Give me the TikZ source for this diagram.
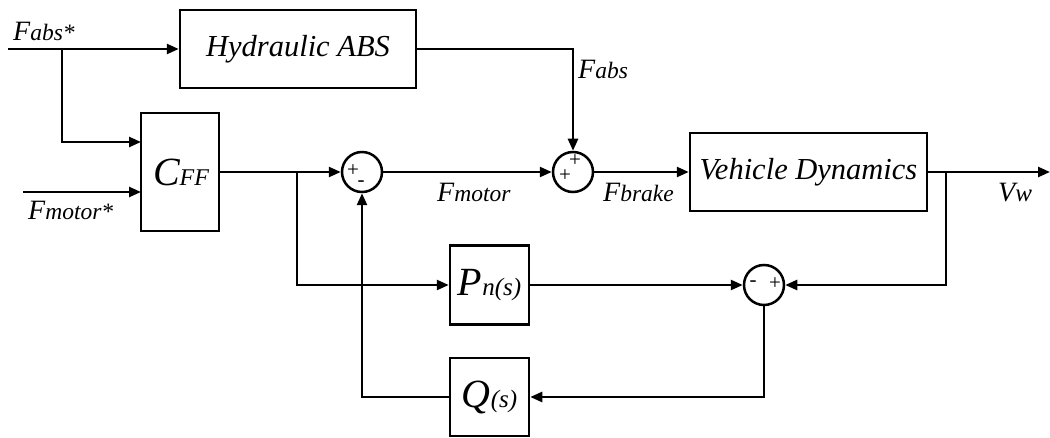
\documentclass[tikz,border=0pt]{standalone}
\usepackage{fontspec}
\setmainfont{Liberation Serif}
\usetikzlibrary{arrows.meta,calc}
\newcommand\biglbl[2]{{\fontsize{28}{30}\selectfont\itshape #1}{\fontsize{23.5}{26}\selectfont\itshape #2}}
\tikzset{
  blk/.style={draw, line width=2.5pt, rectangle, inner sep=0pt, fill=white},
  sumc/.style={draw, line width=2.5pt, circle, minimum size=40pt, inner sep=0pt},
  arr/.style={line width=2.5pt, -{Triangle[length=12pt,width=10pt]}},
  sgn/.style={inner sep=0pt, font=\fontsize{21}{21}\selectfont},
  lbl/.style={inner sep=0pt, anchor=base west},
}
\begin{document}
\begin{tikzpicture}[x=1pt,y=-1pt]
\useasboundingbox (0,0) rectangle (1050,438);
% blocks
\node[blk, minimum width=236pt, minimum height=78pt] (hab) at (298,49)
  {\fontsize{30.5}{32}\selectfont\itshape Hydraulic ABS};
\node[blk, minimum width=78pt, minimum height=118pt] (cff) at (180,172)
  {\hspace*{2pt}{\fontsize{40}{42}\selectfont\itshape C}{\fontsize{24}{26}\selectfont\itshape FF}};
\node[blk, minimum width=237pt, minimum height=78pt] (vd) at (808.5,172)
  {\fontsize{30.5}{32}\selectfont\itshape Vehicle Dynamics};
\node[blk, minimum width=79pt, minimum height=79pt] (pn) at (489.5,285)
  {{\fontsize{40}{42}\selectfont\itshape P}{\fontsize{25}{27}\selectfont\itshape n(s)}};
\node[blk, minimum width=79pt, minimum height=78pt] (q) at (489.5,397)
  {{\fontsize{40}{42}\selectfont\itshape Q}{\fontsize{25}{27}\selectfont\itshape (s)}};
% summing junctions
\node[sumc] (s1) at (362,172) {};
\node[sumc] (s2) at (573,172) {};
\node[sumc] (s3) at (764,285) {};
\node[sgn] (s1p) at ($(s1)+(-9,-1)$) {+};
\node[sgn] (s1m) at ($(s1)+(-1,12)$) {-};
\node[sgn] (s2pt) at ($(s2)+(2,-11)$) {+};
\node[sgn] (s2pl) at ($(s2)+(-8,4)$) {+};
\node[sgn] (s3m) at ($(s3)+(-11,-1)$) {-};
\node[sgn] (s3p) at ($(s3)+(11,-1)$) {+};
% coordinates
\coordinate (fa) at (8,49);
\coordinate (b1) at (62,49);
\coordinate (c1) at (141,142);
\coordinate (fm) at (23,192);
\coordinate (c2) at (141,192);
\coordinate (b2) at (297,172);
\coordinate (b3) at (946,172);
\coordinate (out) at (1050,172);
% connectors
\draw[arr] (fa) -- (hab.west);
\draw[arr] (b1) |- (c1);
\draw[arr] (fm) -- (c2);
\draw[arr] (cff.east) -- (s1.west);
\draw[arr] (b2) |- (pn.west);
\draw[arr] (s1.east) -- (s2.west);
\draw[arr] (hab.east) -| (s2.north);
\draw[arr] (s2.east) -- (vd.west);
\draw[arr] (vd.east) -- (out);
\draw[arr] (b3) |- (s3.east);
\draw[arr] (pn.east) -- (s3.west);
\draw[arr] (s3.south) |- (q.east);
\draw[arr] (q.west) -| (s1.south);
% labels
\node[lbl] (l1) at (13,41) {\biglbl{F}{abs*}};
\node[lbl] (l2) at (28,220) {\biglbl{F}{motor*}};
\node[lbl] (l3) at (437,202) {\biglbl{F}{motor}};
\node[lbl] (l4) at (603,202) {\biglbl{F}{brake}};
\node[lbl] (l5) at (578,79) {\biglbl{F}{abs}};
\node[lbl] (l6) at (998,202) {{\fontsize{28}{30}\selectfont\itshape V}{\fontsize{25}{27}\selectfont\itshape w}};
\end{tikzpicture}
\end{document}
